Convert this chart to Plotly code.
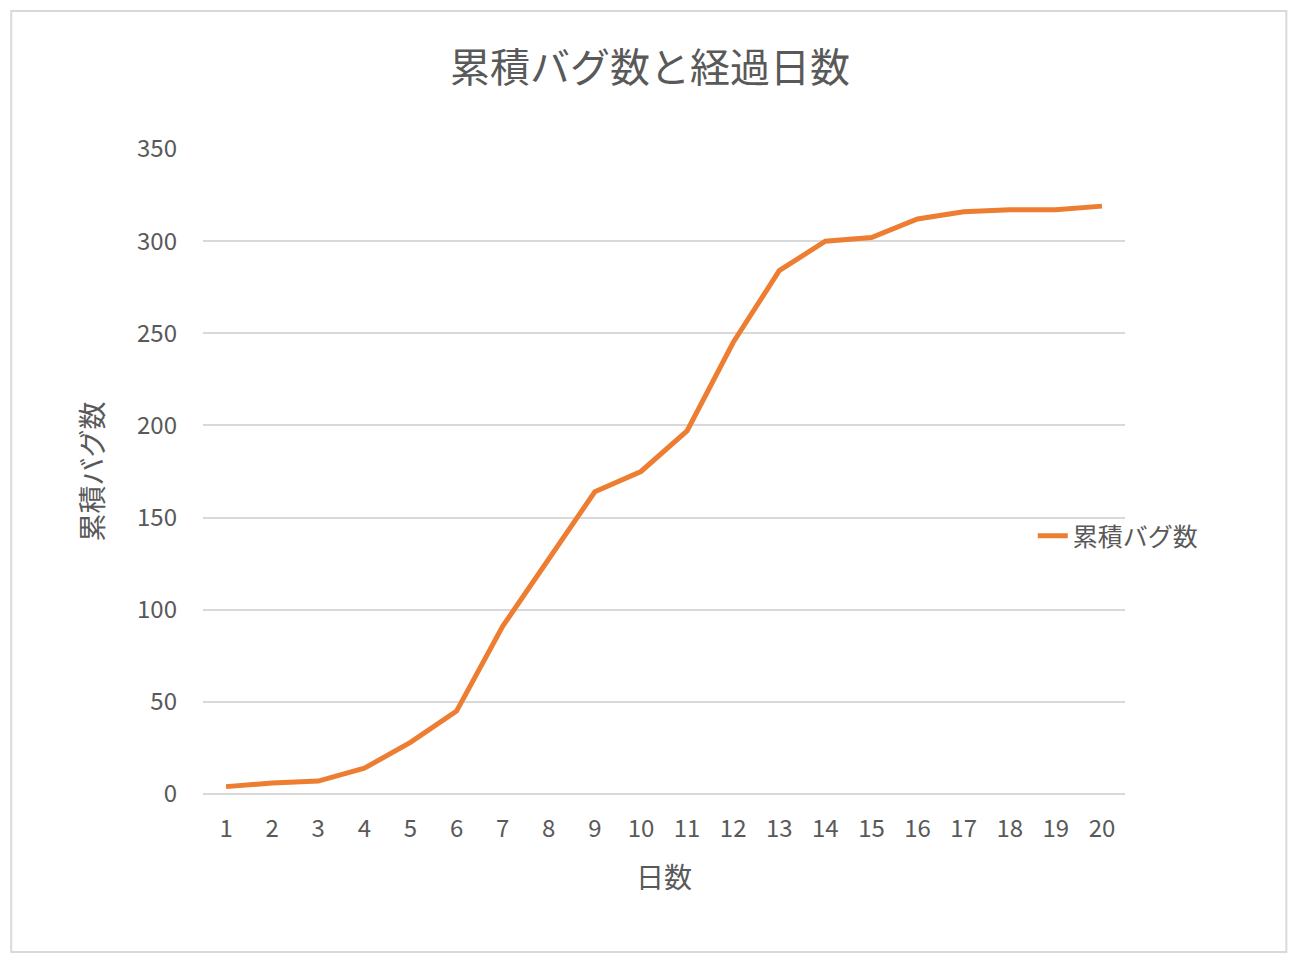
import plotly.graph_objects as go

days = [str(i) for i in range(1, 21)]
bugs = [4, 6, 7, 14, 28, 45, 91, 127, 164, 175, 197, 245, 284, 300, 302, 312, 316, 317, 317, 319]
series_name = "累積バグ数"
title = "累積バグ数と経過日数"
x_title = "日数"
y_title = "累積バグ数"

font = "Noto Sans CJK JP"
fig = go.Figure(go.Scatter(x=days, y=bugs, mode="lines", name=series_name,
                           line=dict(color="#ED7D31", width=5)))
fig.update_layout(
    width=1284, height=949, paper_bgcolor="white", plot_bgcolor="white",
    font=dict(family=font, color="#595959", size=24),
    title=dict(text=title, x=0.5, xanchor="center", y=0.937, yanchor="middle",
               font=dict(size=40, color="#595959")),
    margin=dict(l=195, r=167, t=141, b=163),
    showlegend=True,
    legend=dict(x=0.9, y=0.4, xanchor="left", yanchor="middle", bgcolor="rgba(0,0,0,0)",
                font=dict(size=25, color="#595959")),
    xaxis=dict(title=dict(text=x_title, font=dict(size=28), standoff=25), showgrid=False, showline=False,
               tickfont=dict(size=24), ticks="", range=[-0.5, 19.5], ticklabelstandoff=18),
    yaxis=dict(title=dict(text=y_title, font=dict(size=28), standoff=25), range=[0, 350], dtick=50,
               gridcolor="#D9D9D9", gridwidth=2, zeroline=True, zerolinecolor="#D9D9D9", zerolinewidth=2,
               tickfont=dict(size=24), ticks="", ticklabelstandoff=25),
    shapes=[dict(type="rect", xref="paper", yref="paper", x0=-0.208, x1=1.175, y0=-0.245, y1=1.214,
                 line=dict(color="#D9D9D9", width=2))],
)
fig.write_html("out.html")
